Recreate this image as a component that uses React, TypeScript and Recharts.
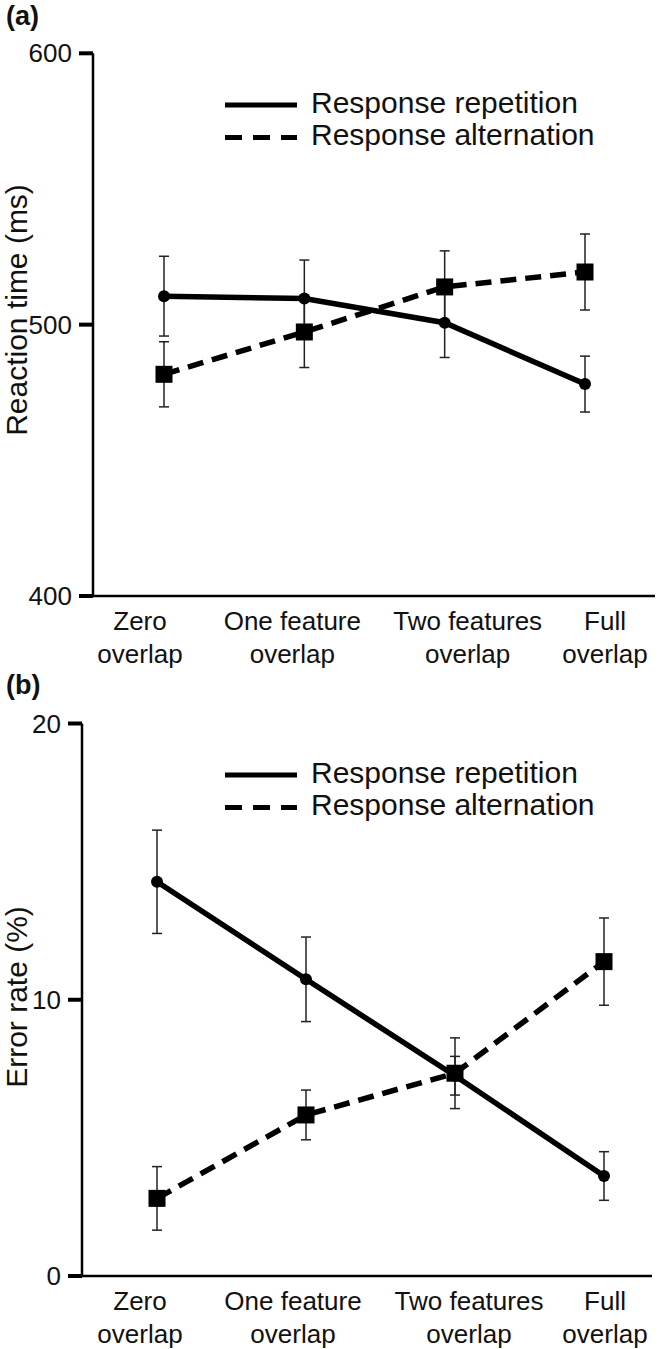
import React from "react";
import { LineChart, Line, XAxis, YAxis, ErrorBar, Legend } from "recharts";

const conditions = ["Zero overlap", "One feature overlap", "Two features overlap", "Full overlap"];
const tickLines = [
  ["Zero", "overlap"],
  ["One feature", "overlap"],
  ["Two features", "overlap"],
  ["Full", "overlap"],
];
const seriesNames = ["Response repetition", "Response alternation"];

// (a) reaction time, ms
const rtRepetition = [510.5, 509.6, 500.7, 478.1];
const rtRepetitionSe = [14.7, 14.2, 12.8, 10.3];
const rtAlternation = [481.7, 497.3, 513.9, 519.4];
const rtAlternationSe = [12, 13.1, 13.3, 14];
const rtTicks = [400, 500, 600];

// (b) error rate, %
const erRepetition = [14.27, 10.74, 7.25, 3.62];
const erRepetitionSe = [1.87, 1.53, 0.7, 0.88];
const erAlternation = [2.81, 5.83, 7.34, 11.38];
const erAlternationSe = [1.15, 0.9, 1.28, 1.58];
const erTicks = [0, 10, 20];

const FONT = "'Liberation Sans', Arial, Helvetica, sans-serif";

const rtData = conditions.map((c, i) => ({
  condition: c,
  rep: rtRepetition[i],
  repSe: rtRepetitionSe[i],
  alt: rtAlternation[i],
  altSe: rtAlternationSe[i],
}));

const erData = conditions.map((c, i) => ({
  condition: c,
  rep: erRepetition[i],
  repSe: erRepetitionSe[i],
  alt: erAlternation[i],
  altSe: erAlternationSe[i],
}));

function CatTick({ x, y, payload, shifts }: any) {
  const i = conditions.indexOf(payload.value);
  const lines = tickLines[i] || [payload.value, ""];
  const cx = x + (shifts[i] || 0);
  return (
    <g>
      <text x={cx} y={y + 34} textAnchor="middle" fontSize={26} fontFamily={FONT} fill="#111">
        {lines[0]}
      </text>
      <text x={cx} y={y + 67} textAnchor="middle" fontSize={26} fontFamily={FONT} fill="#111">
        {lines[1]}
      </text>
    </g>
  );
}

// y tick: label plus a short heavy stub against the axis
function ValueTick({ x, y, payload }: any) {
  return (
    <g>
      <rect x={x + 7} y={y - 2} width={14} height={4} fill="#000" />
      <text x={x} y={y} dy={9} textAnchor="end" fontSize={26} fontFamily={FONT} fill="#111">
        {payload.value}
      </text>
    </g>
  );
}

function SquareDot({ cx, cy, index }: any) {
  if (cx == null || cy == null) return null;
  return <rect key={`sq-${index}`} x={cx - 8.5} y={cy - 8.5} width={17} height={17} fill="#000" />;
}

function LegendBox() {
  return (
    <svg width={420} height={70} style={{ display: "block" }}>
      <line x1={5} x2={77} y1={20} y2={20} stroke="#000" strokeWidth={5} />
      <text x={91} y={28} fontSize={30} fontFamily={FONT} fill="#111">
        {seriesNames[0]}
      </text>
      <line x1={5} x2={77} y1={52.5} y2={52.5} stroke="#000" strokeWidth={5} strokeDasharray="17 11" />
      <text x={91} y={60} fontSize={30} fontFamily={FONT} fill="#111">
        {seriesNames[1]}
      </text>
    </svg>
  );
}

function Panel({ data, domain, ticks, margin, padding, shifts, top, height }: any) {
  return (
    <div style={{ position: "absolute", left: 0, top }}>
      <LineChart width={661} height={height} data={data} margin={margin}>
        <XAxis
          dataKey="condition"
          padding={padding}
          interval={0}
          height={70}
          tickSize={0}
          tickMargin={0}
          tickLine={false}
          axisLine={{ stroke: "#000", strokeWidth: 2.5 }}
          tick={<CatTick shifts={shifts} />}
        />
        <YAxis
          type="number"
          domain={domain}
          ticks={ticks}
          width={60}
          tickSize={14}
          tickMargin={7}
          tickLine={false}
          axisLine={{ stroke: "#000", strokeWidth: 2.5 }}
          tick={<ValueTick />}
        />
        <Legend
          layout="horizontal"
          verticalAlign="middle"
          align="center"
          content={<LegendBox />}
          wrapperStyle={{ top: 85, left: 220, width: 420 }}
        />
        <Line
          type="linear"
          dataKey="rep"
          name={seriesNames[0]}
          stroke="#000"
          strokeWidth={5.5}
          dot={{ r: 6, fill: "#000", stroke: "#000", strokeWidth: 0 }}
          activeDot={false}
          isAnimationActive={false}
        >
          <ErrorBar dataKey="repSe" direction="y" width={5} stroke="#222" strokeWidth={1.5} />
        </Line>
        <Line
          type="linear"
          dataKey="alt"
          name={seriesNames[1]}
          stroke="#000"
          strokeWidth={5.5}
          strokeDasharray="16 9"
          dot={<SquareDot />}
          activeDot={false}
          isAnimationActive={false}
        >
          <ErrorBar dataKey="altSe" direction="y" width={5} stroke="#222" strokeWidth={1.5} />
        </Line>
      </LineChart>
    </div>
  );
}

export default function App() {
  return (
    <div style={{ position: "absolute", left: 0, top: 0, width: 661, height: 1349, background: "#fff" }}>
      <Panel
        data={rtData}
        domain={[400, 600]}
        ticks={rtTicks}
        top={0}
        height={670}
        margin={{ top: 53.3, right: 6, bottom: 4, left: 33 }}
        padding={{ left: 71, right: 70 }}
        shifts={[-24, -12, 23, 20]}
      />
      <Panel
        data={erData}
        domain={[0, 20]}
        ticks={erTicks}
        top={670}
        height={679}
        margin={{ top: 53.5, right: 9, bottom: 3, left: 22 }}
        padding={{ left: 75, right: 48 }}
        shifts={[-17, -13, 14, 1]}
      />
      <svg
        width={661}
        height={1349}
        style={{ position: "absolute", left: 0, top: 0, pointerEvents: "none" }}
      >
        <text x={6} y={25} fontSize={27} fontWeight="bold" fontFamily={FONT} fill="#111">
          (a)
        </text>
        <text
          transform="translate(27,310) rotate(-90)"
          textAnchor="middle"
          fontSize={30}
          fontFamily={FONT}
          fill="#111"
        >
          Reaction time (ms)
        </text>
        <text x={6} y={694} fontSize={27} fontWeight="bold" fontFamily={FONT} fill="#111">
          (b)
        </text>
        <text
          transform="translate(27,997) rotate(-90)"
          textAnchor="middle"
          fontSize={30}
          fontFamily={FONT}
          fill="#111"
        >
          Error rate (%)
        </text>
      </svg>
    </div>
  );
}
